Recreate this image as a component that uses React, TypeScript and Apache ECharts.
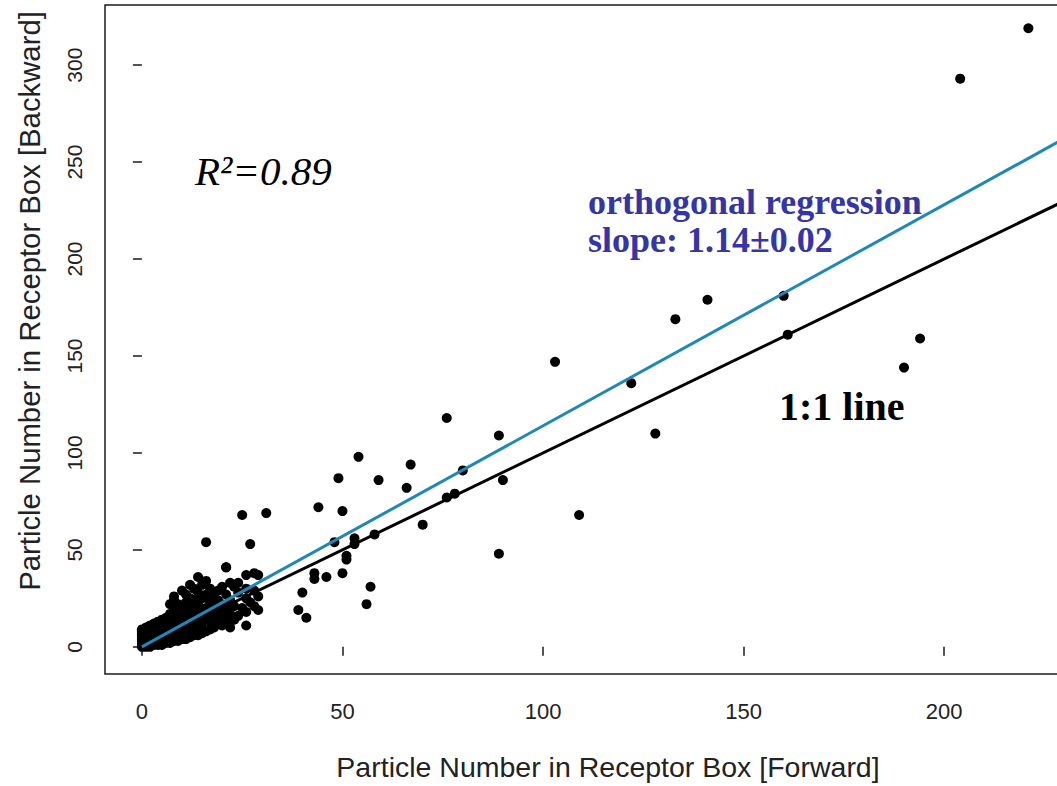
import React, { useEffect, useRef } from "react";
import * as echarts from "echarts";

// Tick values
const xTicks = [0, 50, 100, 150, 200];
const yTicks = [0, 50, 100, 150, 200, 250, 300];

// [forward, backward] particle counts — dense cluster near the origin
const denseCounts: number[][] = [
  [0, 0], [0, 1], [0, 2], [0, 3], [0, 4], [0, 5], [0, 6], [0, 7], [0, 8], [0, 9],
  [1, 0], [1, 1], [1, 2], [1, 3], [1, 4], [1, 5], [1, 6], [1, 7], [1, 8], [1, 10],
  [2, 0], [2, 1], [2, 2], [2, 3], [2, 4], [2, 5], [2, 6], [2, 7], [2, 8], [2, 11],
  [3, 1], [3, 2], [3, 3], [3, 4], [3, 5], [3, 6], [3, 7], [3, 9], [3, 12],
  [4, 1], [4, 2], [4, 3], [4, 5], [4, 6], [4, 8], [4, 10], [4, 13],
  [5, 1], [5, 2], [5, 4], [5, 6], [5, 7], [5, 9], [5, 11], [5, 14],
  [6, 2], [6, 3], [6, 5], [6, 7], [6, 9], [6, 12], [6, 15],
  [7, 2], [7, 4], [7, 6], [7, 8], [7, 10], [7, 13], [7, 17], [7, 22],
  [8, 3], [8, 5], [8, 7], [8, 9], [8, 12], [8, 15], [8, 19], [8, 24], [8, 26],
  [9, 3], [9, 5], [9, 8], [9, 11], [9, 14], [9, 18], [9, 22],
  [10, 4], [10, 6], [10, 9], [10, 13], [10, 16], [10, 20], [10, 29],
  [11, 4], [11, 7], [11, 10], [11, 14], [11, 18], [11, 23], [11, 27],
  [12, 5], [12, 8], [12, 12], [12, 16], [12, 21], [12, 25], [12, 32],
  [13, 6], [13, 9], [13, 14], [13, 19], [13, 24], [13, 30],
  [14, 6], [14, 10], [14, 16], [14, 22], [14, 28], [14, 36],
  [15, 7], [15, 12], [15, 18], [15, 25], [15, 32],
  [16, 8], [16, 14], [16, 20], [16, 27], [16, 34],
  [17, 9], [17, 13], [17, 17], [17, 23], [17, 30],
  [18, 10], [18, 15], [18, 21], [18, 26],
  [19, 12], [19, 18], [19, 24], [19, 29],
  [20, 11], [20, 16], [20, 22], [20, 31],
  [21, 13], [21, 19], [21, 27], [21, 41],
  [22, 10], [22, 17], [22, 24], [22, 33],
  [23, 14], [23, 21], [23, 31],
  [24, 16], [24, 28], [24, 33],
  [25, 20], [25, 68],
  [26, 11], [26, 18], [26, 25], [26, 30], [26, 37],
  [27, 23], [27, 53],
  [28, 21], [28, 29], [28, 38],
  [29, 19], [29, 26], [29, 37],
  [31, 69],
];

// scattered counts between 30 and 100
const midCounts: number[][] = [
  [16, 54], [21, 41], [39, 19], [40, 28], [41, 15], [43, 38], [43, 35], [46, 36],
  [44, 72], [50, 70], [49, 87], [48, 54], [53, 56], [53, 53], [51, 47], [51, 45],
  [50, 38], [57, 31], [56, 22], [58, 58], [59, 86], [54, 98], [66, 82], [67, 94],
  [70, 63], [76, 77], [78, 79], [80, 91], [90, 86], [76, 118], [89, 109], [89, 48],
];

// large counts
const highCounts: number[][] = [
  [103, 147], [109, 68], [122, 136], [128, 110], [133, 169], [141, 179],
  [160, 181], [161, 161], [190, 144], [194, 159], [204, 293], [221, 319],
];

// line end points
const oneToOneLine: number[][] = [[0, 0], [241.6, 241.6]];
const regressionLine: number[][] = [[0, 0], [241.6, 275.4]];

const axisFont = "'Liberation Sans', Arial, sans-serif";
const serifFont = "'Liberation Serif', 'Times New Roman', serif";

export default function App() {
  const ref = useRef<HTMLDivElement>(null);
  useEffect(() => {
    if (!ref.current) return;
    const chart = echarts.init(ref.current, undefined, { renderer: "svg" });
    const tickStyle = { color: "#1a1a1a", width: 1.5 };
    const dot = { color: "#000", opacity: 1 };
    chart.setOption({
      animation: false,
      backgroundColor: "#ffffff",
      grid: {
        left: 105,
        top: 5,
        right: 9,
        bottom: 111,
        show: true,
        borderColor: "#1a1a1a",
        borderWidth: 1.5,
        backgroundColor: "transparent",
      },
      xAxis: {
        type: "value",
        min: -9.2,
        max: 241.6,
        splitLine: { show: false },
        axisLine: { show: false },
        axisTick: { show: true, inside: false, length: 9, customValues: xTicks, lineStyle: tickStyle },
        axisLabel: { customValues: xTicks, margin: 26, fontSize: 22, color: "#222", fontFamily: axisFont },
        name: "Particle Number in Receptor Box [Forward]",
        nameLocation: "middle",
        nameGap: 78,
        nameTextStyle: { fontSize: 28.5, color: "#222", fontFamily: axisFont },
      },
      yAxis: {
        type: "value",
        min: -14,
        max: 331,
        splitLine: { show: false },
        axisLine: { show: false },
        axisTick: { show: true, inside: false, length: 9, customValues: yTicks, lineStyle: tickStyle },
        axisLabel: { customValues: yTicks, rotate: 90, margin: 20, fontSize: 21, color: "#222", fontFamily: axisFont },
      },
      graphic: [
        {
          type: "text",
          x: 29,
          y: 301,
          rotation: Math.PI / 2,
          style: {
            text: "Particle Number in Receptor Box [Backward]",
            fontSize: 29.3,
            fontFamily: axisFont,
            fill: "#222",
            align: "center",
            verticalAlign: "middle",
          },
        },
        {
          type: "text",
          x: 195,
          y: 171,
          style: {
            text: "R²=0.89",
            fontSize: 41,
            fontStyle: "italic",
            fontFamily: serifFont,
            fill: "#000",
            align: "left",
            verticalAlign: "middle",
          },
        },
        {
          type: "text",
          x: 588,
          y: 202,
          style: {
            text: "orthogonal regression",
            fontSize: 36,
            fontWeight: "bold",
            fontFamily: serifFont,
            fill: "#3535a5",
            align: "left",
            verticalAlign: "middle",
          },
        },
        {
          type: "text",
          x: 588,
          y: 240,
          style: {
            text: "slope: 1.14±0.02",
            fontSize: 36,
            fontWeight: "bold",
            fontFamily: serifFont,
            fill: "#3535a5",
            align: "left",
            verticalAlign: "middle",
          },
        },
        {
          type: "text",
          x: 779,
          y: 406,
          style: {
            text: "1:1 line",
            fontSize: 40,
            fontWeight: "bold",
            fontFamily: serifFont,
            fill: "#000",
            align: "left",
            verticalAlign: "middle",
          },
        },
      ],
      series: [
        {
          type: "scatter",
          data: denseCounts,
          symbol: "circle",
          symbolSize: 10,
          itemStyle: dot,
          z: 2,
        },
        {
          type: "scatter",
          data: midCounts,
          symbol: "circle",
          symbolSize: 10,
          itemStyle: dot,
          z: 2,
        },
        {
          type: "scatter",
          data: highCounts,
          symbol: "circle",
          symbolSize: 10,
          itemStyle: dot,
          z: 2,
        },
        {
          type: "line",
          data: oneToOneLine,
          showSymbol: false,
          symbol: "none",
          lineStyle: { color: "#000", width: 3 },
          z: 3,
        },
        {
          type: "line",
          data: regressionLine,
          showSymbol: false,
          symbol: "none",
          lineStyle: { color: "#2088b8", width: 3 },
          z: 4,
        },
      ],
    });
    return () => chart.dispose();
  }, []);
  return (
    <div
      style={{ position: "absolute", left: 0, top: 0, width: 1057, height: 786, overflow: "hidden", background: "#fff" }}
    >
      <div ref={ref} style={{ width: 1120, height: 786 }} />
    </div>
  );
}
